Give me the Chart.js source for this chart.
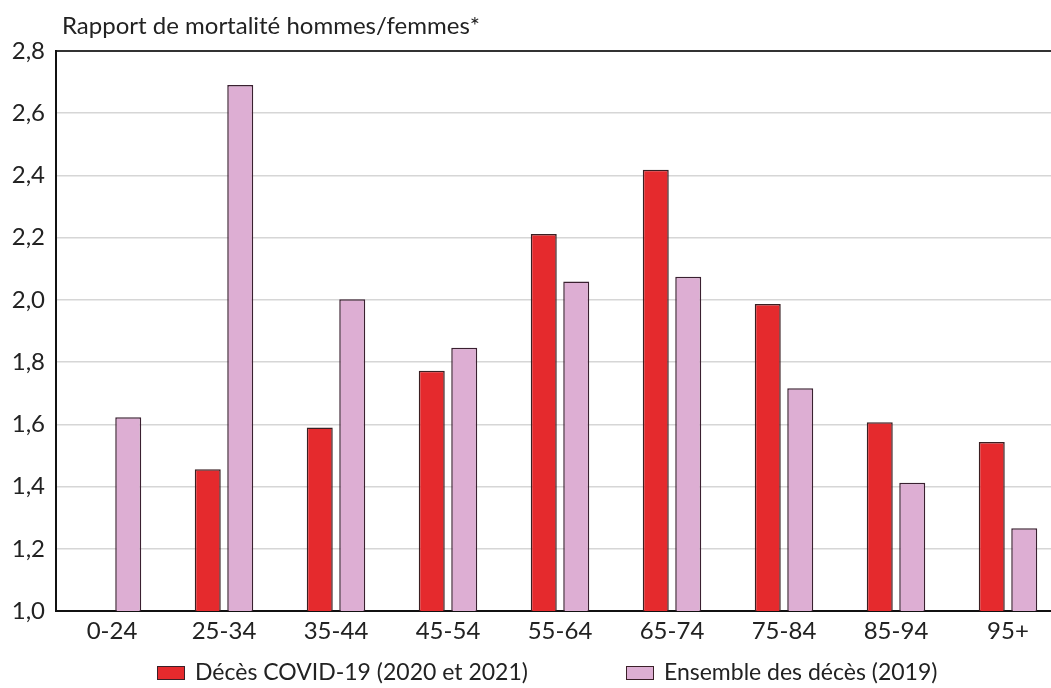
<!DOCTYPE html>
<html>
<head>
<meta charset="utf-8">
<script src="https://cdn.jsdelivr.net/npm/chart.js@4/dist/chart.umd.min.js"></script>
<style>
  html, body { margin: 0; padding: 0; background: #fff; overflow: hidden; }
  #wrap { position: relative; width: 1070px; height: 688px; }
  #wrap canvas { position: absolute; left: 0; top: 0; }
  #legend { position: absolute; top: 657px; left: 157px; display: flex; font-family: Lato, sans-serif; font-size: 23px; line-height: 28px; color: #222; }
  .item { display: flex; align-items: center; margin-right: 98px; }
  .box { width: 26px; height: 12px; border: 1.5px solid #3a2028; margin-right: 10px; margin-top: 4px; }
</style>
</head>
<body>
<div id="wrap">
  <canvas id="chart" width="1070" height="688"></canvas>
  <div id="legend"></div>
</div>
<script>
// age groups
const ageGroups = ['0-24', '25-34', '35-44', '45-54', '55-64', '65-74', '75-84', '85-94', '95+'];
// male / female mortality ratio
const covidDeaths = [null, 1.456, 1.590, 1.772, 2.212, 2.418, 1.987, 1.607, 1.543];
const allDeaths2019 = [1.623, 2.691, 2.002, 1.846, 2.059, 2.074, 1.716, 1.412, 1.266];
const seriesNames = ['Décès COVID-19 (2020 et 2021)', 'Ensemble des décès (2019)'];
const seriesColors = ['#e52a2d', '#ddaed3'];
const yTitle = 'Rapport de mortalité hommes/femmes*';

const fontFamily = 'Lato, sans-serif';

// draw the axis title above the plot, left aligned
const topTitle = {
  id: 'topTitle',
  afterDraw(chart) {
    const ctx = chart.ctx;
    ctx.save();
    ctx.font = '24px ' + fontFamily;
    ctx.fillStyle = '#222';
    ctx.textBaseline = 'middle';
    ctx.fillText(yTitle, chart.chartArea.left + 6, chart.chartArea.top - 25);
    ctx.restore();
  }
};

const ctx = document.getElementById('chart').getContext('2d');
const chart = new Chart(ctx, {
  type: 'bar',
  data: {
    labels: ageGroups,
    datasets: [
      {
        label: seriesNames[0],
        data: covidDeaths,
        backgroundColor: seriesColors[0],
        borderColor: '#3a1f22',
        borderWidth: 1.5,
        categoryPercentage: 0.58,
        barPercentage: 0.8
      },
      {
        label: seriesNames[1],
        data: allDeaths2019,
        backgroundColor: seriesColors[1],
        borderColor: '#3a2030',
        borderWidth: 1.5,
        categoryPercentage: 0.58,
        barPercentage: 0.8
      }
    ]
  },
  options: {
    responsive: false,
    animation: false,
    layout: { padding: { top: 51, right: 6, left: 0, bottom: 0 } },
    plugins: {
      legend: { display: false },
      tooltip: { enabled: false }
    },
    scales: {
      x: {
        grid: { display: false, drawTicks: false },
        border: { color: '#111', width: 2 },
        ticks: { color: '#222', font: { family: fontFamily, size: 24 }, padding: 6 },
        afterFit: s => { s.height = 77; }
      },
      y: {
        min: 1.0,
        max: 2.8,
        grid: {
          drawTicks: false,
          color: c => c.tick && Math.abs(c.tick.value - 2.8) < 1e-6 ? '#333' : '#d6d6d6',
          lineWidth: c => c.tick && Math.abs(c.tick.value - 2.8) < 1e-6 ? 2 : 1.5
        },
        border: { color: '#111', width: 2 },
        ticks: {
          stepSize: 0.2,
          color: '#222',
          padding: 11,
          font: { family: fontFamily, size: 24 },
          callback: v => Number(v).toFixed(1).replace('.', ',')
        },
        afterFit: s => { s.width = 56; }
      }
    }
  },
  plugins: [topTitle]
});

// html legend built from the datasets
const legend = document.getElementById('legend');
chart.data.datasets.forEach(ds => {
  const item = document.createElement('div');
  item.className = 'item';
  const box = document.createElement('span');
  box.className = 'box';
  box.style.background = ds.backgroundColor;
  const txt = document.createElement('span');
  txt.textContent = ds.label;
  item.appendChild(box);
  item.appendChild(txt);
  legend.appendChild(item);
});
</script>
</body>
</html>
